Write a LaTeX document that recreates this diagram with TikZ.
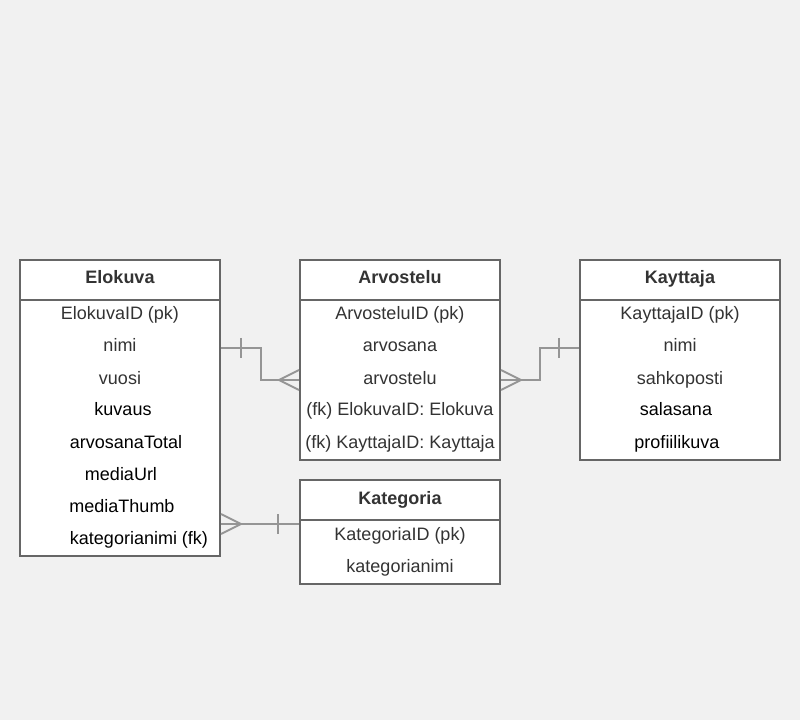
\documentclass[tikz,border=0pt]{standalone}
\usepackage{fontspec}
\setmainfont{Liberation Sans}
\usetikzlibrary{positioning}
\definecolor{bg}{HTML}{F1F1F1}
\definecolor{edgegray}{HTML}{666666}
\definecolor{relgray}{HTML}{959595}
\definecolor{txt}{HTML}{333333}

\begin{document}
\begin{tikzpicture}[x=0.75pt,y=-0.75pt,
    tbl/.style={draw=edgegray,line width=1.5pt,fill=white,minimum width=150pt,inner sep=0pt},
    sep/.style={draw=edgegray,line width=1.5pt},
    head/.style={font=\fontsize{13.5}{16}\selectfont\bfseries,text=txt,text height=9.75pt,text depth=5.25pt,inner sep=0pt},
    row/.style={font=\fontsize{13.5}{16}\selectfont,text height=9.75pt,text depth=5.25pt,inner sep=0pt},
    relline/.style={draw=relgray,line width=1.5pt}]
    % page
    \fill[bg] (0,0) rectangle (800,720);
    \useasboundingbox (0,0) rectangle (800,720);

    % Elokuva
    \node[tbl,minimum height=222pt] (elokuva) at (120,408) {};
    \draw[sep] (elokuva.west |- 0,300) -- (elokuva.east |- 0,300);
    \node[head] (elokuva-h) at (120,281) {Elokuva};
    \foreach \t/\c/\x [count=\i] in {ElokuvaID (pk)/txt/120, nimi/txt/120, vuosi/txt/120,
        kuvaus/black/123, arvosanaTotal/black/126, mediaUrl/black/121,
        mediaThumb/black/122, kategorianimi (fk)/black/139}
    {
        \node[row,text=\c] (elo\i) at (\x,285+32*\i) {\t};
    }

    % Arvostelu
    \node[tbl,minimum height=150pt] (arvostelu) at (400,360) {};
    \draw[sep] (arvostelu.west |- 0,300) -- (arvostelu.east |- 0,300);
    \node[head] (arvostelu-h) at (400,281) {Arvostelu};
    \foreach \t [count=\i] in {ArvosteluID (pk), arvosana, arvostelu,
        {(fk) ElokuvaID: Elokuva}, {(fk) KayttajaID: Kayttaja}}
    {
        \node[row,text=txt] (arv\i) at (400,285+32*\i) {\t};
    }

    % Kayttaja
    \node[tbl,minimum height=150pt] (kayttaja) at (680,360) {};
    \draw[sep] (kayttaja.west |- 0,300) -- (kayttaja.east |- 0,300);
    \node[head] (kayttaja-h) at (680,281) {Kayttaja};
    \foreach \t/\c/\x [count=\i] in {KayttajaID (pk)/txt/680, nimi/txt/680, sahkoposti/txt/680,
        salasana/black/676, profiilikuva/black/677}
    {
        \node[row,text=\c] (kay\i) at (\x,285+32*\i) {\t};
    }

    % Kategoria
    \node[tbl,minimum height=78pt] (kategoria) at (400,532) {};
    \draw[sep] (kategoria.west |- 0,520) -- (kategoria.east |- 0,520);
    \node[head] (kategoria-h) at (400,501) {Kategoria};
    \foreach \t [count=\i] in {KategoriaID (pk), kategorianimi}
    {
        \node[row,text=txt] (kat\i) at (400,505+32*\i) {\t};
    }

    % Elokuva 1 -- n Arvostelu
    \coordinate (eloout) at (elokuva.east |- 0,348);
    \coordinate (arvin) at (arvostelu.west |- 0,380);
    \draw[relline] (eloout) -- ++(40,0) |- (arvin);
    \draw[relline] (eloout) ++(20,-10) -- ++(0,20);
    \draw[relline] (arvin) ++(0,-10) -- ++(-20,10) -- ++(20,10);

    % Kayttaja 1 -- n Arvostelu
    \coordinate (kayout) at (kayttaja.west |- 0,348);
    \coordinate (arvin2) at (arvostelu.east |- 0,380);
    \draw[relline] (kayout) -- ++(-39,0) |- (arvin2);
    \draw[relline] (kayout) ++(-20,-10) -- ++(0,20);
    \draw[relline] (arvin2) ++(0,-10) -- ++(20,10) -- ++(-20,10);

    % Kategoria 1 -- n Elokuva
    \coordinate (katin) at ([yshift=6pt]kategoria.west);
    \draw[relline] (katin) -- (elokuva.east |- katin);
    \draw[relline] (katin) ++(-21,-10) -- ++(0,20);
    \draw[relline] (elokuva.east |- katin) ++(0,-10) -- ++(20,10) -- ++(-20,10);
\end{tikzpicture}
\end{document}
